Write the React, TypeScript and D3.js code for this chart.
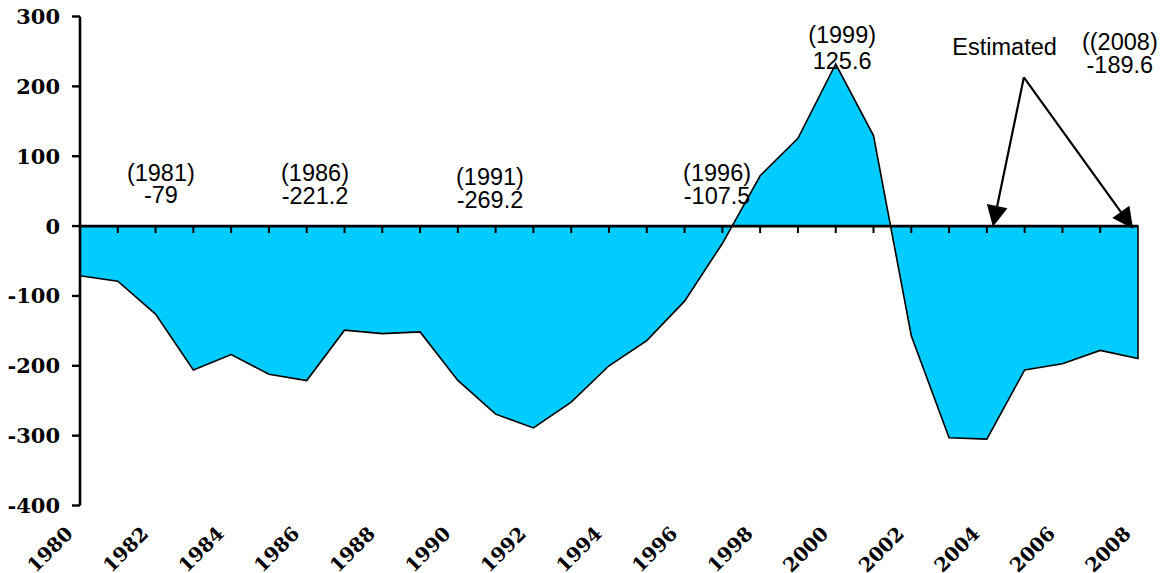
import React from "react";
import * as d3 from "d3";

const years: number[] = d3.range(1980, 2009);
const balance: number[] = [
  -71, -79, -126, -206, -184, -212, -221.2, -149, -154, -151.5,
  -221, -269.2, -289, -252, -200, -164, -107.5, -25, 72, 125.6,
  232, 129.5, -157, -303, -305, -206, -197, -178, -189.6,
];
const yTicks: number[] = [-400, -300, -200, -100, 0, 100, 200, 300];
const xLabelYears: number[] = d3.range(1980, 2009, 2);

const callouts = [
  { lines: ["(1981)", "-79"], year: 1982.14, value: 64, dy: 22 },
  { lines: ["(1986)", "-221.2"], year: 1986.22, value: 64, dy: 23 },
  { lines: ["(1991)", "-269.2"], year: 1990.85, value: 59, dy: 23 },
  { lines: ["(1996)", "-107.5"], year: 1996.86, value: 64, dy: 23 },
  { lines: ["(1999)", "125.6"], year: 2000.17, value: 262, dy: 26 },
  { lines: ["Estimated"], year: 2004.47, value: 245, dy: 0 },
  { lines: ["((2008)", "-189.6"], year: 2007.52, value: 252, dy: 23 },
];
const arrowFrom = { year: 2004.98, value: 213 };
const arrowTargets = [
  { year: 2004.16, value: -1 },
  { year: 2007.87, value: -4 },
];

const W = 1162;
const H = 573;

export default function App() {
  const x = d3.scaleLinear().domain([1980, 2008]).range([80, 1138]);
  const y = d3.scaleLinear().domain([-400, 300]).range([505.5, 16.5]);

  const pts: [number, number][] = years.map((yr, i) => [yr, balance[i]]);
  const area = d3
    .area<[number, number]>()
    .x((d) => x(d[0]))
    .y0(y(0))
    .y1((d) => y(d[1]));
  const areaPath = area(pts) as string;

  const serif = "'DejaVu Serif', 'Liberation Serif', serif";
  const sans = "'Liberation Sans', Arial, sans-serif";

  const ax = x(arrowFrom.year);
  const ay = y(arrowFrom.value);

  return (
    <div style={{ position: "absolute", left: 0, top: 0 }}>
      <svg width={W} height={H} style={{ display: "block", background: "#fff" }}>
        <path d={areaPath} fill="#00CCFF" stroke="#000" strokeWidth={1.6} strokeLinejoin="miter" />
        {years.slice(1, -1).map((yr) => (
          <line key={"xt" + yr} x1={x(yr)} x2={x(yr)} y1={y(0)} y2={y(0) + 7} stroke="#000" strokeWidth={2} />
        ))}
        <line x1={x(1980)} x2={x(2008)} y1={y(0)} y2={y(0)} stroke="#000" strokeWidth={2.8} />
        <line x1={x(1980)} x2={x(1980)} y1={y(300)} y2={y(-400)} stroke="#000" strokeWidth={2.6} />
        {yTicks.map((t) => (
          <g key={"yt" + t}>
            <line x1={x(1980) - 8} x2={x(1980)} y1={y(t)} y2={y(t)} stroke="#000" strokeWidth={2.4} />
            <text
              x={60}
              y={y(t)}
              dy="0.36em"
              textAnchor="end"
              fontFamily={serif}
              fontWeight="bold"
              fontSize={21}
              fill="#000"
            >
              {t}
            </text>
          </g>
        ))}
        {xLabelYears.map((yr) => (
          <text
            key={"xl" + yr}
            transform={`translate(${x(yr) - 6},535) rotate(-45)`}
            textAnchor="end"
            fontFamily={serif}
            fontWeight="bold"
            fontSize={19.5}
            fill="#000"
          >
            {yr}
          </text>
        ))}
        {callouts.map((c, i) => (
          <text key={"c" + i} x={x(c.year)} y={y(c.value)} textAnchor="middle" fontFamily={sans} fontSize={23.5} fill="#000">
            {c.lines.map((ln, j) => (
              <tspan key={j} x={x(c.year)} dy={j === 0 ? 0 : c.dy}>
                {ln}
              </tspan>
            ))}
          </text>
        ))}
        {arrowTargets.map((t, i) => {
          const tx = x(t.year);
          const ty = y(t.value);
          const dx = tx - ax;
          const dyy = ty - ay;
          const len = Math.sqrt(dx * dx + dyy * dyy);
          const ux = dx / len;
          const uy = dyy / len;
          const hl = 21;
          const hw = 10.5;
          const bx = tx - ux * hl;
          const by = ty - uy * hl;
          const p1 = [bx - uy * hw, by + ux * hw];
          const p2 = [bx + uy * hw, by - ux * hw];
          return (
            <g key={"a" + i}>
              <line x1={ax} y1={ay} x2={bx} y2={by} stroke="#000" strokeWidth={2.2} />
              <polygon points={`${tx},${ty} ${p1[0]},${p1[1]} ${p2[0]},${p2[1]}`} fill="#000" />
            </g>
          );
        })}
      </svg>
    </div>
  );
}
